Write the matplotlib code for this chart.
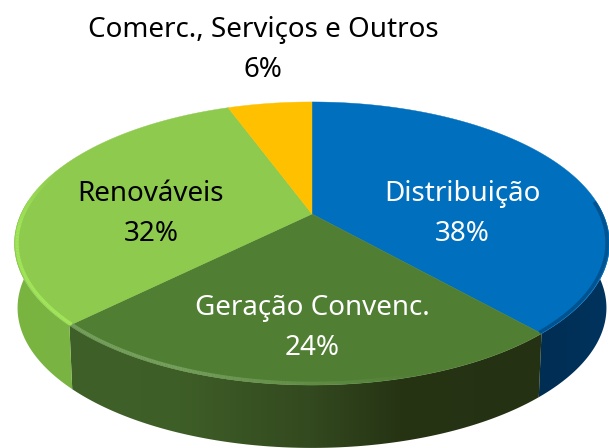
import numpy as np
import matplotlib
matplotlib.use("Agg")
import matplotlib.pyplot as plt
from matplotlib.collections import LineCollection
from matplotlib.colors import LinearSegmentedColormap, to_rgb
from matplotlib.patches import Polygon

# slices, clockwise from the top (labels on the chart show them rounded)
labels = ["Distribuição", "Geração Convenc.", "Renováveis", "Comerc., Serviços e Outros"]
values = [38.4, 24.2, 31.8, 5.6]
top_colors = ["#006fbe", "#507e33", "#8dca4d", "#ffc000"]
text_colors = ["white", "white", "black", "black"]
text_pos = [(462, 214), (312, 328), (151, 214), (263, 50)]

# side shading: (x pixel, colour) stops for each slice
side_stops = [
    [(520, "#002b4f"), (620, "#003560")],
    [(60, "#3f6129"), (180, "#3e5e27"), (310, "#33491f"), (400, "#263414"), (550, "#243113")],
    [(0, "#7ab542"), (90, "#79b341")],
]
rim_colors = ["#00467a", "#7fa868", "#a4ea5c"]

cx, cy = 312, 214
a, b, k = 291, 135.4, 0.2085
depth = 65


# perspective projection of the unit circle, angle measured clockwise from top
def project(theta, r=1.0, drop=0.0):
    x = r * np.sin(theta)
    y = r * np.cos(theta)
    w = 1 + k * y
    return cx + a * x / w, cy - b * y / w + drop


fig = plt.figure(figsize=(6.09, 4.48), dpi=100)
ax = fig.add_axes([0, 0, 1, 1])
ax.axis("off")

edges = np.cumsum([0] + values) / sum(values) * 2 * np.pi

# side walls first, only the part facing the viewer
for i in range(3):
    t = np.linspace(edges[i], edges[i + 1], 300)
    t = t[(t > np.pi / 2 - 0.1) & (t < 3 * np.pi / 2 + 0.1)]
    px, py = project(t)
    bx, by = project(t, r=0.99, drop=depth)
    verts = np.r_[np.c_[px, py], np.c_[bx, by][::-1]]
    stops = side_stops[i]
    x0, x1 = stops[0][0], stops[-1][0]
    cmap = LinearSegmentedColormap.from_list(
        "side", [((s[0] - x0) / (x1 - x0), s[1]) for s in stops])
    poly = Polygon(verts, closed=True, facecolor="none", edgecolor="none")
    ax.add_patch(poly)
    img = ax.imshow(np.linspace(0, 1, 256)[None, :], extent=(x0, x1, 448, 0),
                    cmap=cmap, aspect="auto", zorder=1)
    img.set_clip_path(poly)

ax.set_xlim(0, 609)
ax.set_ylim(448, 0)

# top face
for i in range(len(values)):
    t = np.linspace(edges[i], edges[i + 1], 200)
    px, py = project(t)
    ax.fill(np.r_[cx, px], np.r_[cy, py], color=top_colors[i], lw=0.3, zorder=2)

# soft bevel along the front rim, fading out towards the right and the back
for i in range(3):
    t = np.linspace(edges[i], edges[i + 1], 200)
    t = t[(t > np.pi / 2 - 0.1) & (t < 3 * np.pi / 2 + 0.35)]
    rx, ry = project(t, r=0.992)
    pts = np.c_[rx, ry]
    segs = np.stack([pts[:-1], pts[1:]], axis=1)
    if i == 0:
        alpha = np.full(len(segs), 0.7)
    elif i == 1:
        alpha = np.clip((420 - rx[:-1]) / 300, 0, 0.8)
    else:
        alpha = np.clip((3 * np.pi / 2 + 0.35 - t[:-1]) / 0.5, 0, 0.9)
    rgba = np.c_[np.tile(to_rgb(rim_colors[i]), (len(segs), 1)), alpha]
    ax.add_collection(LineCollection(segs, colors=rgba, linewidths=2.5, zorder=3))

for i in range(len(values)):
    ax.text(text_pos[i][0], text_pos[i][1], f"{labels[i]}\n{values[i]:.0f}%",
            color=text_colors[i], fontsize=20, family="Noto Sans",
            ha="center", va="center", linespacing=1.57, zorder=5)

fig.savefig("out.png", dpi=100)
